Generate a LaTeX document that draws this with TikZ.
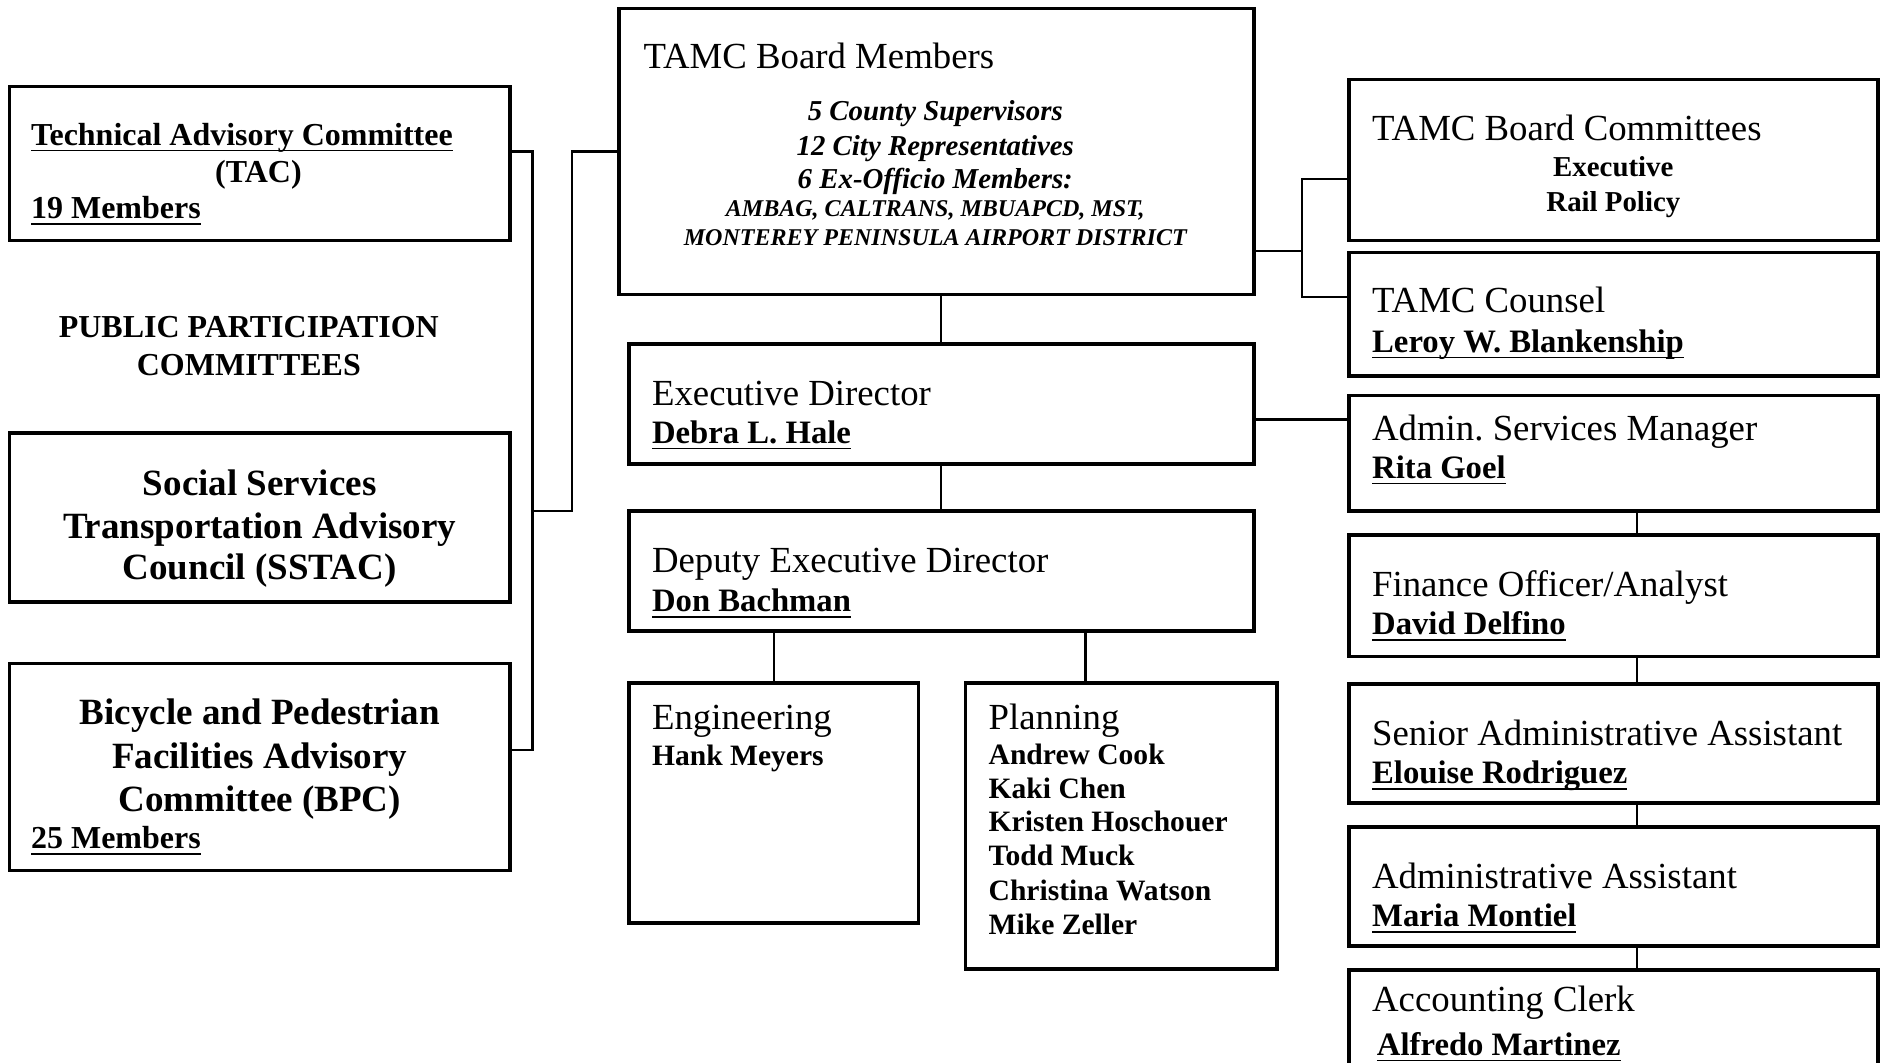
\documentclass[tikz,border=0pt]{standalone}
\usepackage{fontspec}
\setmainfont{Liberation Serif}

\newcommand*\undername[1]{\setbox0=\hbox{#1}\rlap{\rule[-2.4pt]{\wd0}{0.6pt}}\box0}

\begin{document}
\frenchspacing
\begin{tikzpicture}
[x=0.5pt,y=-0.5pt,
  boxDecorate/.style={draw,line width=1.5pt,anchor=north west,inner sep=0pt,outer sep=0pt},
  lineDecorate/.style={-,line width=0.9pt},
  titleDecorate/.style={anchor=base west,inner sep=0pt,font=\fontsize{15.3}{18}\selectfont},
  nameDecorate/.style={anchor=base west,inner sep=0pt,font=\fontsize{13.6}{16}\selectfont\bfseries},
  staffDecorate/.style={anchor=base west,inner sep=0pt,font=\fontsize{12.3}{14}\selectfont\bfseries},
  committeeDecorate/.style={anchor=base west,inner sep=0pt,font=\fontsize{13.3}{16}\selectfont\bfseries},
  headDecorate/.style={anchor=base,inner sep=0pt,font=\fontsize{15.4}{18}\selectfont\bfseries},
  memberDecorate/.style={anchor=base,inner sep=0pt,font=\fontsize{12}{14}\selectfont\bfseries\itshape}]
\clip (0,0) rectangle (1568,884);
%% boxes
\foreach \nodename/\x/\y/\w/\h in {tac/8/72/416/128, sstac/8/360/416/141, bpc/8/552/416/172,
  board/515/7/528/238, execdir/523/286/520/100, deputy/523/425/520/100,
  eng/523/568/241/200, planning/803/568/259/238,
  committees/1122/66/440/134, counsel/1122/210/440/103, admin/1122/329/440/96,
  finance/1122/445/440/101, senior/1122/569/440/99, adminasst/1122/688/440/99,
  clerk/1122/807/440/120}
{
  \node (\nodename) at (\x,\y) [boxDecorate,minimum width=\w*0.5pt,minimum height=\h*0.5pt] {};
}
%% public participation committees
\node (tac-title) at (25.5,121) [committeeDecorate] {\undername{Technical Advisory Committee}};
\node (tac-abbr) at (215,152) [committeeDecorate,anchor=base] {(TAC)};
\node (tac-members) at (25.5,182) [committeeDecorate] {\undername{19 Members}};
\node (public-1) at (207,281) [committeeDecorate,anchor=base] {PUBLIC PARTICIPATION};
\node (public-2) at (207,312) [committeeDecorate,anchor=base] {COMMITTEES};
\foreach \i/\txt/\y in {1/Social Services/412, 2/Transportation Advisory/448, 3/Council (SSTAC)/482}
{
  \node (sstac-\i) at (216,\y) [headDecorate] {\txt};
}
\foreach \i/\txt/\y in {1/Bicycle and Pedestrian/603, 2/Facilities Advisory/639, 3/Committee (BPC)/675}
{
  \node (bpc-\i) at (216,\y) [headDecorate] {\txt};
}
\node (bpc-members) at (25.5,706) [committeeDecorate] {\undername{25 Members}};
%% board
\node (board-title) at (535,57) [titleDecorate] {TAMC Board Members};
\foreach \i/\txt/\y in {1/5 County Supervisors/100, 2/12 City Representatives/129, 3/6 Ex-Officio Members:/157}
{
  \node (board-\i) at (778,\y) [memberDecorate] {\txt};
}
\foreach \i/\txt/\y in {4/{AMBAG, CALTRANS, MBUAPCD, MST,}/180, 5/MONTEREY PENINSULA AIRPORT DISTRICT/204}
{
  \node (board-\i) at (778,\y) [memberDecorate,font=\fontsize{10}{12}\selectfont\bfseries\itshape] {\txt};
}
%% staff boxes
\foreach \nodename/\x/\title/\name/\ta/\tb in {execdir/542/Executive Director/Debra L. Hale/337/369,
  deputy/542/Deputy Executive Director/Don Bachman/476/509,
  counsel/1141/TAMC Counsel/Leroy W. Blankenship/260/293,
  admin/1141/Admin. Services Manager/Rita Goel/366/398,
  finance/1141/{Finance Officer/Analyst}/David Delfino/496/528,
  senior/1141/Senior Administrative Assistant/Elouise Rodriguez/620/652,
  adminasst/1141/Administrative Assistant/Maria Montiel/739/771}
{
  \node (\nodename-title) at (\x,\ta) [titleDecorate] {\title};
  \node (\nodename-name) at (\x,\tb) [nameDecorate] {\undername{\name}};
}
\node (clerk-title) at (1141,841) [titleDecorate] {Accounting Clerk};
\node (clerk-name) at (1145,878) [nameDecorate] {\undername{Alfredo Martinez}};
\node (committees-title) at (1141,117) [titleDecorate] {TAMC Board Committees};
\foreach \i/\txt/\y in {1/Executive/147, 2/Rail Policy/176}
{
  \node (committees-\i) at (1342,\y) [staffDecorate,anchor=base,font=\fontsize{12}{14}\selectfont\bfseries] {\txt};
}
\node (eng-title) at (542,607) [titleDecorate] {Engineering};
\node (eng-name) at (542,637) [staffDecorate] {Hank Meyers};
\node (planning-title) at (822,607) [titleDecorate] {Planning};
\foreach \i/\txt/\y in {1/Andrew Cook/636, 2/Kaki Chen/664, 3/Kristen Hoschouer/692,
  4/Todd Muck/720, 5/Christina Watson/749, 6/Mike Zeller/777}
{
  \node (planning-\i) at (822,\y) [staffDecorate] {\txt};
}
%% edges or lines
\coordinate (lb1) at (443,126);
\coordinate (lb2) at (443,624);
\coordinate (lb3) at (443,425);
\coordinate (lb4) at (476,425);
\coordinate (lb5) at (476,126);
\draw[lineDecorate] (tac.east |- lb1) -- (lb1) -- (lb2) -- (bpc.east |- lb2);
\draw[lineDecorate] (lb3) -- (lb4) -- (lb5) -- (board.west |- lb5);
\coordinate (cb1) at (1083,149);
\coordinate (cb2) at (1083,247);
\coordinate (cb3) at (1083,209);
\draw[lineDecorate] (committees.west |- cb1) -- (cb1) -- (cb2) -- (counsel.west |- cb2);
\draw[lineDecorate] (board.east |- cb3) -- (cb3);
\coordinate (ea) at (1083,349);
\draw[lineDecorate] (execdir.east |- ea) -- (admin.west |- ea);
\draw[lineDecorate] (execdir.north) -- (execdir.north |- board.south);
\draw[lineDecorate] (execdir.south) -- (deputy.north);
\draw[lineDecorate] (eng.north) -- (eng.north |- deputy.south);
\coordinate (dp) at (903,0);
\draw[lineDecorate] (dp |- deputy.south) -- (dp |- planning.north);
\coordinate (rc) at (1362,0);
\path
\foreach \startnode/\endnode in {admin/finance, finance/senior, senior/adminasst, adminasst/clerk}
{
  (rc |- \startnode.south) edge[lineDecorate] (rc |- \endnode.north)
};
\end{tikzpicture}
\end{document}
